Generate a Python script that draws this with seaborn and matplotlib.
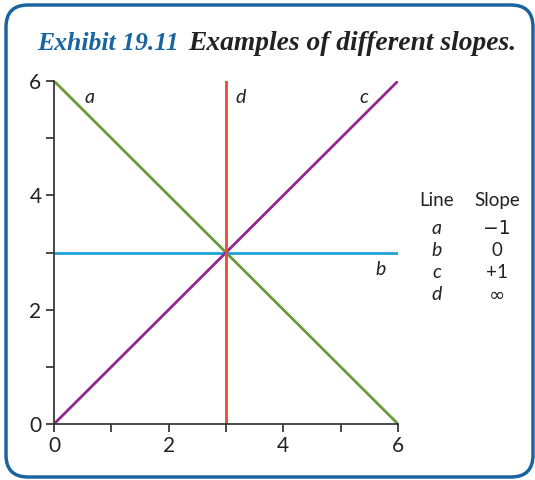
import matplotlib
matplotlib.use("Agg")
import matplotlib.pyplot as plt
import seaborn as sns
import pandas as pd
from matplotlib.patches import FancyBboxPatch

# Data
line_names = ["a", "b", "c", "d"]
line_x = {"a": [0, 6], "b": [0, 6], "c": [0, 6], "d": [3, 3]}
line_y = {"a": [6, 0], "b": [3, 3], "c": [0, 6], "d": [0, 6]}
slopes = ["\u22121", "0", "+1", "\u221e"]
tick_values = [0, 1, 2, 3, 4, 5, 6]
tick_labels = ["0", "", "2", "", "4", "", "6"]
label_pos = {"a": (0.62, 5.72), "b": (5.7, 2.7), "c": (5.4, 5.72), "d": (3.25, 5.72)}
colors = {"a": "#6a9b3b", "b": "#1ea2d9", "c": "#92278f", "d": "#ea4b2f"}

rows = []
for n in line_names:
    for i, (xv, yv) in enumerate(zip(line_x[n], line_y[n])):
        rows.append({"line": n, "x": xv, "y": yv, "order": i})
df = pd.DataFrame(rows)

sns.set_theme(style="white")
plt.rcParams["font.family"] = ["Lato", "DejaVu Sans"]

fig = plt.figure(figsize=(5.35, 4.8), dpi=100)
ax = fig.add_axes([54/535, 56/480, 344/535, 343/480])

sns.lineplot(data=df, x="x", y="y", hue="line", units="line", estimator=None,
             sort=False, palette=colors, legend=False, linewidth=2, ax=ax)

ax.set_xlim(0, 6)
ax.set_ylim(0, 6)
ax.set_xticks(tick_values)
ax.set_yticks(tick_values)
ax.set_xticklabels(tick_labels)
ax.set_yticklabels(tick_labels)
ax.set_xlabel("")
ax.set_ylabel("")
for s in ["top", "right"]:
    ax.spines[s].set_visible(False)
for s in ["left", "bottom"]:
    ax.spines[s].set_color("#3a3a3a")
    ax.spines[s].set_linewidth(1.3)
ax.tick_params(axis="both", direction="out", length=6, width=1.3, color="#3a3a3a",
               labelsize=15, labelcolor="#222222", pad=3)
ax.tick_params(axis="x", bottom=True)
ax.tick_params(axis="y", left=True)
ax.set_facecolor("none")
for n in line_names:
    x, y = label_pos[n]
    ax.text(x, y, n, fontsize=14, style="italic", color="#222222", ha="center", va="center")

# Table
tx1, tx2 = 437/535, 497/535
fig.text(tx1, 1 - 200/480, "Line", fontsize=13.5, ha="center", va="center", color="#222222")
fig.text(tx2, 1 - 200/480, "Slope", fontsize=13.5, ha="center", va="center", color="#222222")
for i, (n, s) in enumerate(zip(line_names, slopes)):
    yy = 1 - (229 + 22 * i) / 480
    fig.text(tx1, yy, n, fontsize=14, style="italic", ha="center", va="center", color="#222222")
    fam = ["DejaVu Sans"] if s in ("\u221e", "\u22121") else ["Lato", "DejaVu Sans"]
    fig.text(tx2, yy, s, fontsize=13.5 if s != "\u221e" else 14, ha="center", va="center",
             color="#222222", family=fam)

# Title
fig.text(37/535, 1 - 50/480, "Exhibit 19.11", fontsize=18.5, fontweight="bold", style="italic",
         family=["Liberation Serif"], color="#1a64a0", ha="left", va="baseline")
fig.text(188/535, 1 - 50/480, "Examples of different slopes.", fontsize=19.8, fontweight="bold",
         style="italic", family=["Liberation Serif"], color="#222222", ha="left", va="baseline")

# Frame
frame = FancyBboxPatch((6, 3), 527, 472, boxstyle="round,pad=0,rounding_size=22",
                       transform=None, fill=False, edgecolor="#1a64a0", linewidth=2.5)
fig.patches.append(frame)

fig.savefig("out.png", dpi=100)
